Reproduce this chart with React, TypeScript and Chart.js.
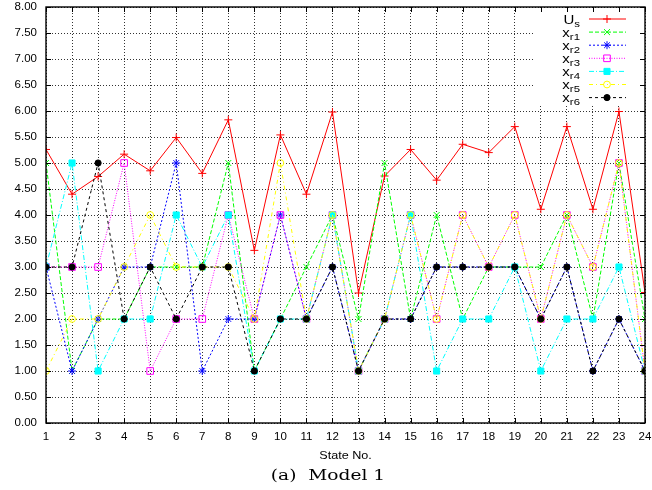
import React, { useEffect, useRef } from 'react';
import { Chart, registerables } from 'chart.js';
import { drawPoint } from 'chart.js/helpers';

Chart.register(...registerables);

// ---- data ----
const states = [1, 2, 3, 4, 5, 6, 7, 8, 9, 10, 11, 12, 13, 14, 15, 16, 17, 18, 19, 20, 21, 22, 23, 24];
const us = [5.26, 4.40, 4.74, 5.17, 4.85, 5.49, 4.80, 5.83, 3.32, 5.54, 4.40, 5.98, 2.50, 4.75, 5.26, 4.67, 5.36, 5.20, 5.70, 4.11, 5.70, 4.11, 5.99, 2.51];
const xr1 = [5, 1, 2, 2, 3, 3, 3, 5, 1, 2, 3, 4, 2, 5, 2, 4, 2, 3, 3, 3, 4, 2, 5, 2];
const xr2 = [3, 1, 2, 3, 3, 5, 1, 2, 2, 4, 2, 3, 1, 2, 2, 3, 3, 3, 3, 2, 3, 1, 2, 1];
const xr3 = [3, 3, 3, 5, 1, 2, 2, 4, 2, 4, 2, 4, 1, 2, 4, 2, 4, 3, 4, 2, 4, 3, 5, 1];
const xr4 = [3, 5, 1, 2, 2, 4, 3, 4, 1, 2, 2, 4, 1, 2, 4, 1, 2, 2, 3, 1, 2, 2, 3, 1];
const xr5 = [1, 2, 2, 3, 4, 3, 3, 3, 2, 5, 2, 4, 1, 2, 4, 2, 4, 3, 4, 2, 4, 3, 5, 1];
const xr6 = [3, 3, 5, 2, 3, 2, 3, 3, 1, 2, 2, 3, 1, 2, 2, 3, 3, 3, 3, 2, 3, 1, 2, 1];

const seriesValues = [us, xr1, xr2, xr3, xr4, xr5, xr6];
const seriesMain = ['U', 'x', 'x', 'x', 'x', 'x', 'x'];
const seriesSub = ['s', 'r1', 'r2', 'r3', 'r4', 'r5', 'r6'];
const xTitle = 'State No.';
const caption = '(a)  Model 1';

// ---- styles ----
const colors = ['#ff0000', '#00ff00', '#0000ff', '#ff00ff', '#00ffff', '#ffff00', '#000000'];
const dashes = [[], [4, 2], [2, 2], [1, 1.5], [5, 2, 1, 2], [4, 3, 1, 3], [3, 3]];
const pStyles = ['cross', 'crossRot', 'star', 'rect', 'rect', 'circle', 'circle'];
const pFilled = [false, false, false, false, true, false, true];
const pRadius = [4, 4.2, 4, 4.7, 4.3, 3.4, 3.1];

const SANS = '"Liberation Sans", Arial, Helvetica, sans-serif';
const SERIF = '"DejaVu Serif", "Liberation Serif", serif';
const SX = 1.2;

function stretchedText(ctx: CanvasRenderingContext2D, text: string, x: number, y: number, font: string, align: CanvasTextAlign) {
  ctx.save();
  ctx.translate(x, y);
  ctx.scale(SX, 1);
  ctx.font = font;
  ctx.textAlign = align;
  ctx.textBaseline = 'alphabetic';
  ctx.fillStyle = '#000';
  ctx.fillText(text, 0, 0);
  ctx.restore();
}

const decorPlugin = {
  id: 'decor',
  beforeDatasetsDraw(chart: any) {
    const { ctx, chartArea: a } = chart;
    ctx.save();
    ctx.fillStyle = '#ffffff';
    ctx.fillRect(a.right - 112, a.top + 1, 111, 96);
    ctx.restore();
  },
  afterDraw(chart: any) {
    const { ctx, chartArea: a, scales } = chart;
    const xs = scales.x;
    const ys = scales.y;
    ctx.save();
    ctx.setLineDash([]);
    ctx.strokeStyle = '#000';
    ctx.lineWidth = 1;
    ctx.beginPath();
    xs.ticks.forEach((t: any) => {
      const px = Math.round(xs.getPixelForValue(t.value)) + 0.5;
      ctx.moveTo(px, a.bottom);
      ctx.lineTo(px, a.bottom - 5);
      ctx.moveTo(px, a.top);
      ctx.lineTo(px, a.top + 5);
    });
    ys.ticks.forEach((t: any) => {
      const py = Math.round(ys.getPixelForValue(t.value)) + 0.5;
      ctx.moveTo(a.left, py);
      ctx.lineTo(a.left + 5, py);
      ctx.moveTo(a.right, py);
      ctx.lineTo(a.right - 5, py);
    });
    ctx.stroke();
    ctx.lineWidth = 1.4;
    ctx.strokeRect(a.left, a.top, a.right - a.left, a.bottom - a.top);

    // legend
    const lineStart = a.right - 56;
    const lineEnd = a.right - 19;
    const markX = a.right - 38;
    const textRight = a.right - 65;
    chart.data.datasets.forEach((ds: any, i: number) => {
      const y = a.top + 12 + i * 13.1;
      ctx.save();
      ctx.strokeStyle = colors[i];
      ctx.lineWidth = 1;
      ctx.setLineDash(dashes[i]);
      ctx.beginPath();
      ctx.moveTo(lineStart, y);
      ctx.lineTo(lineEnd, y);
      ctx.stroke();
      ctx.setLineDash([]);
      ctx.fillStyle = pFilled[i] ? colors[i] : 'rgba(0,0,0,0)';
      ctx.strokeStyle = colors[i];
      drawPoint(ctx, { pointStyle: pStyles[i], rotation: 0, radius: pRadius[i], borderWidth: 1 } as any, markX, y);
      ctx.restore();
      // text with subscript
      ctx.save();
      ctx.translate(textRight, y + 4.5);
      ctx.scale(SX, 1);
      ctx.fillStyle = '#000';
      ctx.textAlign = 'right';
      ctx.textBaseline = 'alphabetic';
      ctx.font = `9.5px ${SANS}`;
      const sw = ctx.measureText(seriesSub[i]).width;
      ctx.fillText(seriesSub[i], 0, 3);
      ctx.font = `12.5px ${SANS}`;
      ctx.fillText(seriesMain[i], -sw, 0);
      ctx.restore();
    });

    // axis title and caption
    stretchedText(ctx, xTitle, (a.left + a.right) / 2, 459, `10.5px ${SANS}`, 'center');
    stretchedText(ctx, caption, 328, 480, `15.5px ${SERIF}`, 'center');
    ctx.restore();
  },
};

export default function App() {
  const ref = useRef<HTMLCanvasElement | null>(null);
  useEffect(() => {
    document.body.style.margin = '0';
    const canvas = ref.current;
    if (!canvas) return;
    const datasets = seriesValues.map((vals, i) => ({
      label: seriesMain[i] + seriesSub[i],
      data: states.map((s, k) => ({ x: s, y: vals[k] })),
      borderColor: colors[i],
      backgroundColor: pFilled[i] ? colors[i] : 'rgba(0,0,0,0)',
      borderWidth: 1,
      borderDash: dashes[i],
      tension: 0,
      fill: false,
      pointStyle: pStyles[i],
      pointRadius: pRadius[i],
      pointBorderWidth: 1,
      pointBorderColor: colors[i],
      pointBackgroundColor: pFilled[i] ? colors[i] : 'rgba(0,0,0,0)',
      order: seriesValues.length - i,
    }));
    const chart = new Chart(canvas, {
      type: 'line',
      data: { datasets },
      options: {
        animation: false,
        responsive: false,
        maintainAspectRatio: false,
        devicePixelRatio: 1,
        layout: { padding: { left: 0, right: 7, top: 7, bottom: 0 } },
        plugins: { legend: { display: false }, tooltip: { enabled: false }, title: { display: false } },
        scales: {
          x: {
            type: 'linear',
            min: 1,
            max: 24,
            ticks: { stepSize: 1, color: '#000', font: { family: SANS, size: 11.5 }, padding: 7, maxRotation: 0, autoSkip: false },
            grid: { color: 'rgba(0,0,0,0.8)', lineWidth: 1, drawTicks: false },
            border: { display: false, dash: [1, 2] },
            afterFit: (s: any) => { s.height = 67; s.paddingLeft = 0; s.paddingRight = 0; },
          },
          y: {
            type: 'linear',
            min: 0,
            max: 8,
            ticks: { stepSize: 0.5, color: '#000', font: { family: SANS, size: 11.5 }, padding: 9, callback: (v: any) => Number(v).toFixed(2) },
            grid: { color: 'rgba(0,0,0,0.8)', lineWidth: 1, drawTicks: false },
            border: { display: false, dash: [1, 2] },
            afterFit: (s: any) => { s.width = 46; s.paddingTop = 0; s.paddingBottom = 0; },
          },
        },
      } as any,
      plugins: [decorPlugin],
    });
    return () => chart.destroy();
  }, []);
  return <canvas ref={ref} width={652} height={490} style={{ display: 'block' }} />;
}
